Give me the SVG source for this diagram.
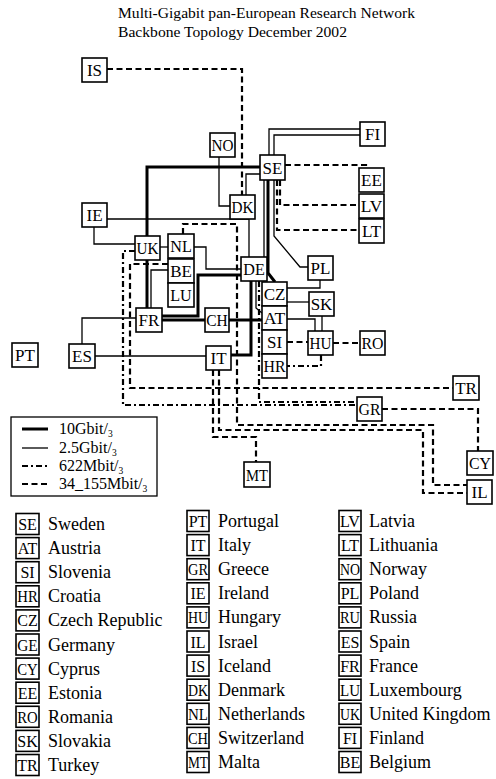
<svg xmlns="http://www.w3.org/2000/svg" width="496" height="779" viewBox="0 0 496 779">
<style>
  text { font-family: "Liberation Serif", "Times New Roman", serif; fill: #000; }
  .box { fill: #fff; stroke: #000; stroke-width: 1.6; }
  .lbl { font-size: 17px; text-anchor: middle; }
  .klbl { font-size: 16px; text-anchor: middle; }
  .name { font-size: 18px; }
  .title { font-size: 15px; }
  .leg { font-size: 16px; }
  .sub { font-size: 9.5px; }
  .ln { fill: none; stroke: #000; stroke-linejoin: miter; }
  .g10 { stroke-width: 3; }
  .g25 { stroke-width: 1.3; }
  .m622 { stroke-width: 2.2; stroke-dasharray: 6 3 2 3; }
  .m34 { stroke-width: 2.2; stroke-dasharray: 6 3.5; }
</style>

<!-- heading -->
<text class="title" x="118" y="18" textLength="297" lengthAdjust="spacingAndGlyphs">Multi-Gigabit pan-European Research Network</text>
<text class="title" x="118" y="37" textLength="229" lengthAdjust="spacingAndGlyphs">Backbone Topology December 2002</text>

<!-- links -->
<g id="connectors">
  <!-- 10 Gbit/s -->
  <path class="ln g10" d="M260,167 H147 V236"/>
  <path class="ln g10" d="M268,180 V273 L275,282"/>
  <path class="ln g10" d="M147,260 V308"/>
  <path class="ln g10" d="M162,316 H198 V275 H241"/>
  <path class="ln g10" d="M162,320 H205"/>
  <path class="ln g10" d="M229,320 H262"/>
  <path class="ln g10" d="M251,281 V355 H231"/>
  <!-- 2.5 Gbit/s -->
  <path class="ln g25" d="M264,180 V257"/>
  <path class="ln g25" d="M269,155 V129 H360"/>
  <path class="ln g25" d="M274,155 V135 H360"/>
  <path class="ln g25" d="M219,157 V206 H230"/>
  <path class="ln g25" d="M246,195 V174 H260"/>
  <path class="ln g25" d="M107,219 H249 V257"/>
  <path class="ln g25" d="M94,227 V244 H135"/>
  <path class="ln g25" d="M160,247 H168"/>
  <path class="ln g25" d="M194,247 H206 V269 H241"/>
  <path class="ln g25" d="M168,270 H151 V308"/>
  <path class="ln g25" d="M274,180 V236 L300,267 H308"/>
  <path class="ln g25" d="M256,281 V308 L262,313"/>
  <path class="ln g25" d="M287,288 H320 V280"/>
  <path class="ln g25" d="M287,302 H309"/>
  <path class="ln g25" d="M287,319 H315 V331"/>
  <path class="ln g25" d="M322,316 V331"/>
  <path class="ln g25" d="M82,344 V318 H136"/>
  <path class="ln g25" d="M95,356 H206"/>
  <!-- 622 Mbit/s -->
  <path class="ln m622" d="M135,251 H123 V405 H357"/>
  <path class="ln m622" d="M259,281 V402 H357"/>
  <path class="ln m622" d="M321,355 V366 H287"/>
  <!-- 34-155 Mbit/s -->
  <path class="ln m34" d="M107,69 H242 V195"/>
  <path class="ln m34" d="M285,165 H366 V168"/>
  <path class="ln m34" d="M277,180 V230 H359"/>
  <path class="ln m34" d="M280,180 V205 H359"/>
  <path class="ln m34" d="M287,342 H308"/>
  <path class="ln m34" d="M333,343 H360"/>
  <path class="ln m34" d="M168,264 H130 V388 H453"/>
  <path class="ln m34" d="M183,234 V224 H237 V425 H433 V485 H467"/>
  <path class="ln m34" d="M219,370 V430 H423 V493 H467"/>
  <path class="ln m34" d="M213,370 V437 H256 V462"/>
  <path class="ln m34" d="M382,409 H478 V451"/>
</g>

<!-- nodes -->
<g id="n-IS"><rect class="box" x="82" y="58" width="25" height="24"/><text class="lbl" x="94.5" y="76">IS</text></g>
<g id="n-FI"><rect class="box" x="360" y="122" width="25" height="24"/><text class="lbl" x="372.5" y="140">FI</text></g>
<g id="n-NO"><rect class="box" x="210" y="133" width="25" height="24"/><text class="lbl" x="222.5" y="151" textLength="22" lengthAdjust="spacingAndGlyphs">NO</text></g>
<g id="n-SE"><rect class="box" x="260" y="155" width="25" height="25"/><text class="lbl" x="272.5" y="173.5">SE</text></g>
<g id="n-DK"><rect class="box" x="230" y="195" width="25" height="24"/><text class="lbl" x="242.5" y="213" textLength="22" lengthAdjust="spacingAndGlyphs">DK</text></g>
<g id="n-EE"><rect class="box" x="359" y="168" width="25" height="24"/><text class="lbl" x="371.5" y="186">EE</text></g>
<g id="n-LV"><rect class="box" x="359" y="194" width="25" height="24"/><text class="lbl" x="371.5" y="212" textLength="21.5" lengthAdjust="spacingAndGlyphs">LV</text></g>
<g id="n-LT"><rect class="box" x="359" y="219" width="25" height="24"/><text class="lbl" x="371.5" y="237">LT</text></g>
<g id="n-IE"><rect class="box" x="82" y="203" width="25" height="24"/><text class="lbl" x="94.5" y="221">IE</text></g>
<g id="n-UK"><rect class="box" x="135" y="236" width="25" height="24"/><text class="lbl" x="147.5" y="254" textLength="22" lengthAdjust="spacingAndGlyphs">UK</text></g>
<g id="n-NL"><rect class="box" x="168" y="234" width="26" height="24"/><text class="lbl" x="181" y="252" textLength="21.5" lengthAdjust="spacingAndGlyphs">NL</text></g>
<g id="n-BE"><rect class="box" x="168" y="259" width="26" height="24"/><text class="lbl" x="181" y="277">BE</text></g>
<g id="n-LU"><rect class="box" x="168" y="283" width="26" height="24"/><text class="lbl" x="181" y="301" textLength="21.5" lengthAdjust="spacingAndGlyphs">LU</text></g>
<g id="n-DE"><rect class="box" x="241" y="257" width="26" height="24"/><text class="lbl" x="254" y="275" textLength="21.5" lengthAdjust="spacingAndGlyphs">DE</text></g>
<g id="n-PL"><rect class="box" x="308" y="256" width="25" height="24"/><text class="lbl" x="320.5" y="274">PL</text></g>
<g id="n-CZ"><rect class="box" x="262" y="282" width="25" height="24"/><text class="lbl" x="274.5" y="300">CZ</text></g>
<g id="n-AT"><rect class="box" x="262" y="306" width="25" height="24"/><text class="lbl" x="274.5" y="324" textLength="21.5" lengthAdjust="spacingAndGlyphs">AT</text></g>
<g id="n-SI"><rect class="box" x="262" y="330" width="25" height="24"/><text class="lbl" x="274.5" y="348">SI</text></g>
<g id="n-HR"><rect class="box" x="262" y="354" width="25" height="24"/><text class="lbl" x="274.5" y="372" textLength="22" lengthAdjust="spacingAndGlyphs">HR</text></g>
<g id="n-SK"><rect class="box" x="309" y="292" width="25" height="24"/><text class="lbl" x="321.5" y="310">SK</text></g>
<g id="n-HU"><rect class="box" x="308" y="331" width="25" height="24"/><text class="lbl" x="320.5" y="349" textLength="22" lengthAdjust="spacingAndGlyphs">HU</text></g>
<g id="n-RO"><rect class="box" x="360" y="331" width="25" height="24"/><text class="lbl" x="372.5" y="349" textLength="22" lengthAdjust="spacingAndGlyphs">RO</text></g>
<g id="n-FR"><rect class="box" x="136" y="308" width="26" height="24"/><text class="lbl" x="149" y="326">FR</text></g>
<g id="n-CH"><rect class="box" x="205" y="308" width="24" height="24"/><text class="lbl" x="217" y="326" textLength="21.5" lengthAdjust="spacingAndGlyphs">CH</text></g>
<g id="n-ES"><rect class="box" x="69" y="344" width="26" height="24"/><text class="lbl" x="82" y="362">ES</text></g>
<g id="n-PT"><rect class="box" x="12" y="343" width="26" height="24"/><text class="lbl" x="25" y="361">PT</text></g>
<g id="n-IT"><rect class="box" x="206" y="346" width="25" height="24"/><text class="lbl" x="218.5" y="364">IT</text></g>
<g id="n-TR"><rect class="box" x="453" y="376" width="26" height="24"/><text class="lbl" x="466" y="394">TR</text></g>
<g id="n-GR"><rect class="box" x="357" y="397" width="25" height="24"/><text class="lbl" x="369.5" y="415" textLength="22" lengthAdjust="spacingAndGlyphs">GR</text></g>
<g id="n-CY"><rect class="box" x="467" y="451" width="26" height="24"/><text class="lbl" x="480" y="469" textLength="22" lengthAdjust="spacingAndGlyphs">CY</text></g>
<g id="n-IL"><rect class="box" x="467" y="480" width="25" height="24"/><text class="lbl" x="479.5" y="498">IL</text></g>
<g id="n-MT"><rect class="box" x="244" y="462" width="26" height="25"/><text class="lbl" x="257" y="480.5" textLength="22" lengthAdjust="spacingAndGlyphs">MT</text></g>

<!-- line style key -->
<g id="line-key">
  <rect x="11" y="417" width="146" height="79" fill="#fff" stroke="#000" stroke-width="1.3"/>
  <line class="ln g10" x1="22" y1="429" x2="48" y2="429"/>
  <line class="ln g25" x1="22" y1="448" x2="48" y2="448"/>
  <line class="ln m622" x1="22" y1="466" x2="48" y2="466"/>
  <line class="ln m34" x1="22" y1="484" x2="48" y2="484"/>
  <text class="leg" x="59" y="434">10Gbit/<tspan class="sub" dy="3">3</tspan></text>
  <text class="leg" x="59" y="453">2.5Gbit/<tspan class="sub" dy="3">3</tspan></text>
  <text class="leg" x="59" y="471">622Mbit/<tspan class="sub" dy="3">3</tspan></text>
  <text class="leg" x="59" y="489">34_155Mbit/<tspan class="sub" dy="3">3</tspan></text>
</g>

<!-- country code key -->
<g id="code-key">
  <g transform="translate(16,0)">
    <rect class="box" x="0" y="513.5" width="23" height="21"/><text class="klbl" x="11.5" y="530">SE</text><text class="name" x="32" y="530">Sweden</text>
    <rect class="box" x="0" y="537.6" width="23" height="21"/><text class="klbl" x="11.5" y="554.1">AT</text><text class="name" x="32" y="554.1">Austria</text>
    <rect class="box" x="0" y="561.7" width="23" height="21"/><text class="klbl" x="11.5" y="578.2">SI</text><text class="name" x="32" y="578.2">Slovenia</text>
    <rect class="box" x="0" y="585.8" width="23" height="21"/><text class="klbl" x="11.5" y="602.3" textLength="20.5" lengthAdjust="spacingAndGlyphs">HR</text><text class="name" x="32" y="602.3">Croatia</text>
    <rect class="box" x="0" y="609.9" width="23" height="21"/><text class="klbl" x="11.5" y="626.4">CZ</text><text class="name" x="32" y="626.4">Czech Republic</text>
    <rect class="box" x="0" y="634" width="23" height="21"/><text class="klbl" x="11.5" y="650.5" textLength="20.5" lengthAdjust="spacingAndGlyphs">GE</text><text class="name" x="32" y="650.5">Germany</text>
    <rect class="box" x="0" y="658.1" width="23" height="21"/><text class="klbl" x="11.5" y="674.6" textLength="20.5" lengthAdjust="spacingAndGlyphs">CY</text><text class="name" x="32" y="674.6">Cyprus</text>
    <rect class="box" x="0" y="682.2" width="23" height="21"/><text class="klbl" x="11.5" y="698.7">EE</text><text class="name" x="32" y="698.7">Estonia</text>
    <rect class="box" x="0" y="706.3" width="23" height="21"/><text class="klbl" x="11.5" y="722.8" textLength="20.5" lengthAdjust="spacingAndGlyphs">RO</text><text class="name" x="32" y="722.8">Romania</text>
    <rect class="box" x="0" y="730.4" width="23" height="21"/><text class="klbl" x="11.5" y="746.9">SK</text><text class="name" x="32" y="746.9">Slovakia</text>
    <rect class="box" x="0" y="754.5" width="23" height="21"/><text class="klbl" x="11.5" y="771">TR</text><text class="name" x="32" y="771">Turkey</text>
  </g>
  <g transform="translate(187,-3)">
    <rect class="box" x="0" y="513.5" width="22" height="21"/><text class="klbl" x="11" y="530">PT</text><text class="name" x="31" y="530">Portugal</text>
    <rect class="box" x="0" y="537.6" width="22" height="21"/><text class="klbl" x="11" y="554.1">IT</text><text class="name" x="31" y="554.1">Italy</text>
    <rect class="box" x="0" y="561.7" width="22" height="21"/><text class="klbl" x="11" y="578.2" textLength="20" lengthAdjust="spacingAndGlyphs">GR</text><text class="name" x="31" y="578.2">Greece</text>
    <rect class="box" x="0" y="585.8" width="22" height="21"/><text class="klbl" x="11" y="602.3">IE</text><text class="name" x="31" y="602.3">Ireland</text>
    <rect class="box" x="0" y="609.9" width="22" height="21"/><text class="klbl" x="11" y="626.4" textLength="20" lengthAdjust="spacingAndGlyphs">HU</text><text class="name" x="31" y="626.4">Hungary</text>
    <rect class="box" x="0" y="634" width="22" height="21"/><text class="klbl" x="11" y="650.5">IL</text><text class="name" x="31" y="650.5">Israel</text>
    <rect class="box" x="0" y="658.1" width="22" height="21"/><text class="klbl" x="11" y="674.6">IS</text><text class="name" x="31" y="674.6">Iceland</text>
    <rect class="box" x="0" y="682.2" width="22" height="21"/><text class="klbl" x="11" y="698.7" textLength="20" lengthAdjust="spacingAndGlyphs">DK</text><text class="name" x="31" y="698.7">Denmark</text>
    <rect class="box" x="0" y="706.3" width="22" height="21"/><text class="klbl" x="11" y="722.8" textLength="20" lengthAdjust="spacingAndGlyphs">NL</text><text class="name" x="31" y="722.8">Netherlands</text>
    <rect class="box" x="0" y="730.4" width="22" height="21"/><text class="klbl" x="11" y="746.9" textLength="20" lengthAdjust="spacingAndGlyphs">CH</text><text class="name" x="31" y="746.9">Switzerland</text>
    <rect class="box" x="0" y="754.5" width="22" height="21"/><text class="klbl" x="11" y="771" textLength="20" lengthAdjust="spacingAndGlyphs">MT</text><text class="name" x="31" y="771">Malta</text>
  </g>
  <g transform="translate(339,-3)">
    <rect class="box" x="0" y="513.5" width="22" height="21"/><text class="klbl" x="11" y="530" textLength="20" lengthAdjust="spacingAndGlyphs">LV</text><text class="name" x="30" y="530">Latvia</text>
    <rect class="box" x="0" y="537.6" width="22" height="21"/><text class="klbl" x="11" y="554.1">LT</text><text class="name" x="30" y="554.1">Lithuania</text>
    <rect class="box" x="0" y="561.7" width="22" height="21"/><text class="klbl" x="11" y="578.2" textLength="20" lengthAdjust="spacingAndGlyphs">NO</text><text class="name" x="30" y="578.2">Norway</text>
    <rect class="box" x="0" y="585.8" width="22" height="21"/><text class="klbl" x="11" y="602.3">PL</text><text class="name" x="30" y="602.3">Poland</text>
    <rect class="box" x="0" y="609.9" width="22" height="21"/><text class="klbl" x="11" y="626.4" textLength="20" lengthAdjust="spacingAndGlyphs">RU</text><text class="name" x="30" y="626.4">Russia</text>
    <rect class="box" x="0" y="634" width="22" height="21"/><text class="klbl" x="11" y="650.5">ES</text><text class="name" x="30" y="650.5">Spain</text>
    <rect class="box" x="0" y="658.1" width="22" height="21"/><text class="klbl" x="11" y="674.6">FR</text><text class="name" x="30" y="674.6">France</text>
    <rect class="box" x="0" y="682.2" width="22" height="21"/><text class="klbl" x="11" y="698.7" textLength="20" lengthAdjust="spacingAndGlyphs">LU</text><text class="name" x="30" y="698.7">Luxembourg</text>
    <rect class="box" x="0" y="706.3" width="22" height="21"/><text class="klbl" x="11" y="722.8" textLength="20" lengthAdjust="spacingAndGlyphs">UK</text><text class="name" x="30" y="722.8">United Kingdom</text>
    <rect class="box" x="0" y="730.4" width="22" height="21"/><text class="klbl" x="11" y="746.9">FI</text><text class="name" x="30" y="746.9">Finland</text>
    <rect class="box" x="0" y="754.5" width="22" height="21"/><text class="klbl" x="11" y="771">BE</text><text class="name" x="30" y="771">Belgium</text>
  </g>
</g>
</svg>
